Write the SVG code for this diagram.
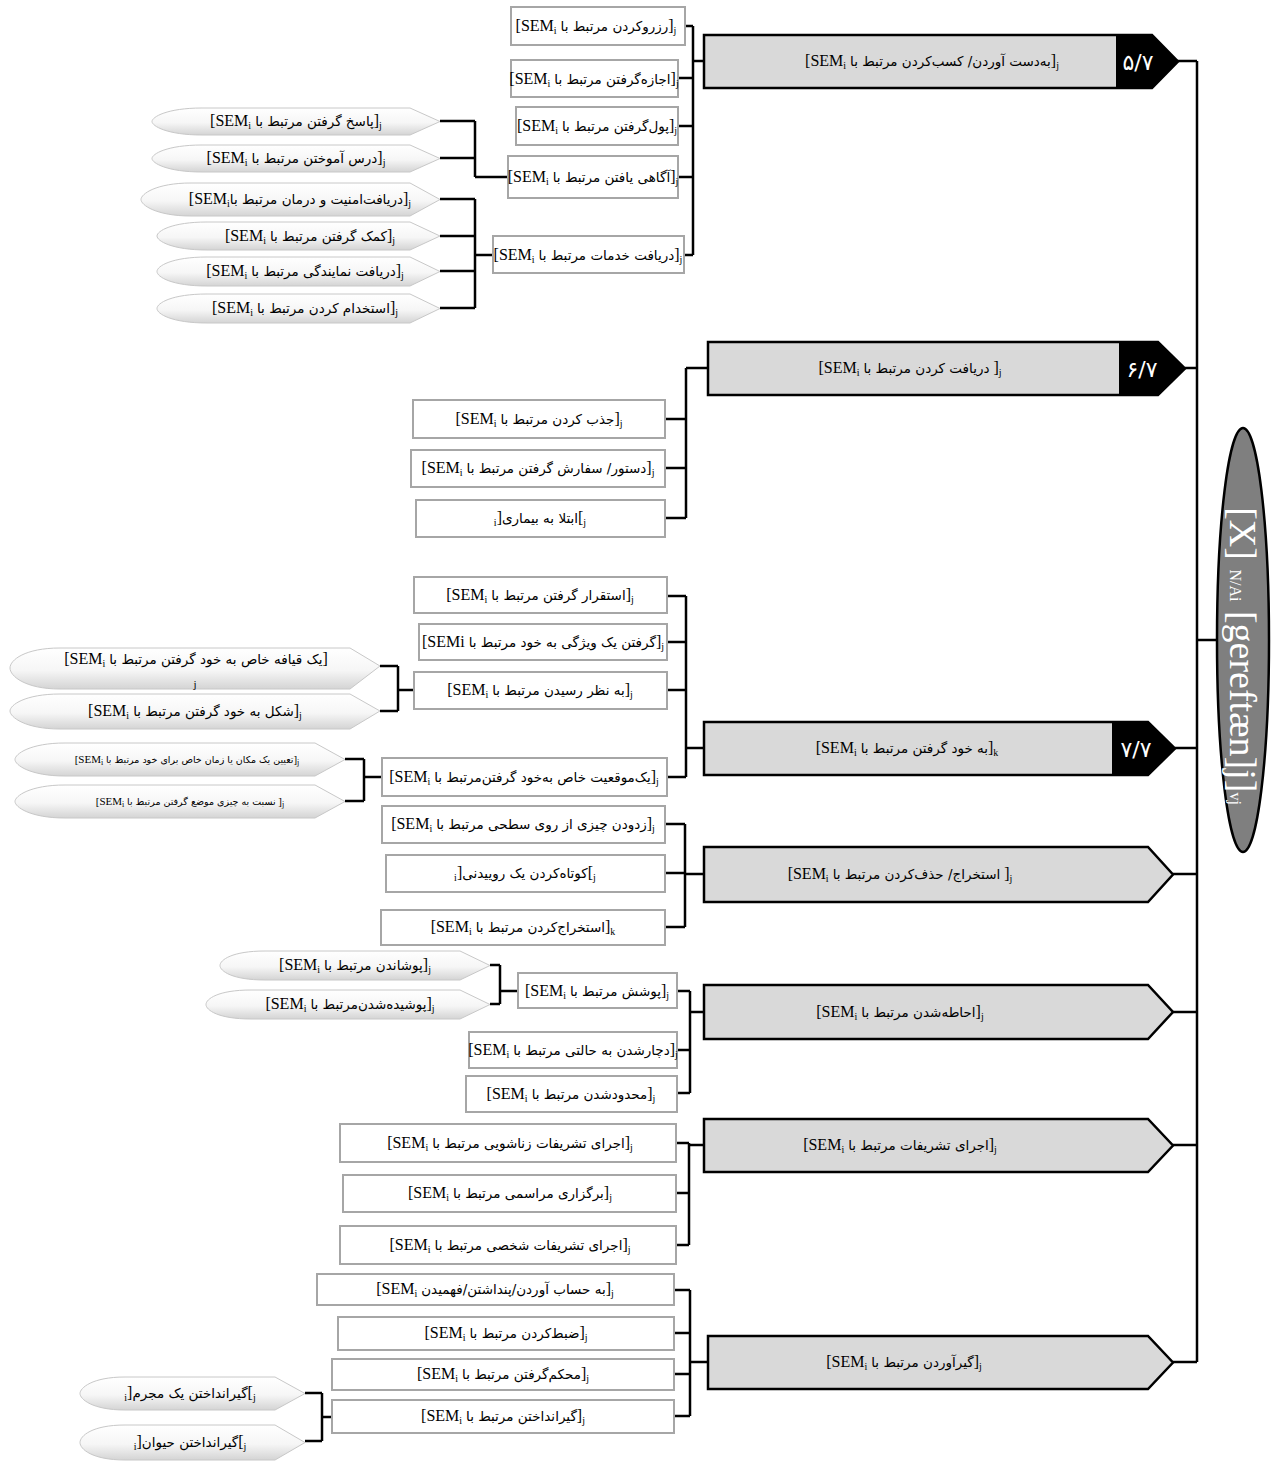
<svg xmlns="http://www.w3.org/2000/svg" width="1278" height="1465" viewBox="0 0 1278 1465">
<defs>
<linearGradient id="lg" x1="0" y1="0" x2="0" y2="1">
<stop offset="0" stop-color="#ffffff"/>
<stop offset="0.55" stop-color="#f6f6f6"/>
<stop offset="1" stop-color="#d4d4d4"/>
</linearGradient>
<style>
.big{fill:#d9d9d9;stroke:#000;stroke-width:2.5}
.blk{fill:#000}
.box{fill:#fff;stroke:#a6a6a6;stroke-width:2}
.leaf{fill:url(#lg);stroke:#c8c8c8;stroke-width:1}
.con{fill:none;stroke:#000;stroke-width:2.5}
.t{font-family:"Liberation Serif","DejaVu Sans",serif;font-size:16px;fill:#000;text-anchor:middle}
.p{font-family:"DejaVu Sans","Liberation Serif",sans-serif;font-size:13.5px}
.sm{font-size:11px}
.sm .p{font-size:9.5px}
.s{font-size:10px}
.sm .s{font-size:8px}
.num{font-family:"DejaVu Sans",sans-serif;font-size:22px;fill:#fff;text-anchor:middle}
.el{font-family:"Liberation Serif",serif;fill:#fff;text-anchor:middle}
</style>
</defs>
<rect width="1278" height="1465" fill="#fff"/>

<g id="connectors">
<path class="con" d="M1177,61 H1197 M1185,368 H1197 M1175,748 H1197 M1173,874 H1197 M1173,1012 H1197 M1173,1145 H1197 M1173,1362 H1197 M1197,61 V1362 M1197,640 H1217"/>
<path class="con" d="M685,26 H693 M678,78 H693 M678,126 H693 M678,177 H693 M684,255 H693 M693,26 V255 M693,61 H704"/>
<path class="con" d="M440,121 H475 M440,158 H475 M475,121 V177 M475,177 H508"/>
<path class="con" d="M440,199 H475 M440,236 H475 M440,271 H475 M440,308 H475 M475,199 V308 M475,255 H493"/>
<path class="con" d="M665,419 H686 M665,468 H686 M665,518 H686 M686,368 V518 M686,368 H708"/>
<path class="con" d="M667,596 H686 M667,642 H686 M667,690 H686 M667,777 H686 M686,596 V777 M686,748 H704"/>
<path class="con" d="M380,666 H398 M380,711 H398 M398,666 V711 M398,690 H414"/>
<path class="con" d="M345,759 H364 M345,801 H364 M364,759 V801 M364,777 H382"/>
<path class="con" d="M665,824 H685 M665,873 H685 M665,927 H685 M685,824 V927 M685,874 H704"/>
<path class="con" d="M677,991 H690 M677,1050 H690 M677,1093 H690 M690,991 V1093 M690,1012 H704"/>
<path class="con" d="M490,965 H500 M490,1004 H500 M500,965 V1004 M500,991 H518"/>
<path class="con" d="M676,1143 H689 M676,1193 H689 M676,1245 H689 M689,1143 V1245 M689,1145 H704"/>
<path class="con" d="M674,1290 H690 M674,1333 H690 M674,1374 H690 M674,1416 H690 M690,1290 V1416 M690,1362 H708"/>
<path class="con" d="M305,1393 H322 M305,1441 H322 M322,1393 V1441 M322,1417 H332"/>
</g>

<g id="root">
<ellipse cx="1243" cy="640" rx="26" ry="212" fill="#7f7f7f" stroke="#000" stroke-width="2.5"/>
<text class="el" transform="rotate(90 1243 640)" x="1259" y="653" font-size="38">[X] <tspan font-size="16">N/Ai</tspan> [gereftæn]j]<tspan font-size="16">vj</tspan></text>
</g>

<g id="n57">
<path class="big" d="M704,35 H1152 L1178,61.5 L1152,88 H704 Z"/>
<path class="blk" d="M1116,35 H1152 L1178,61.5 L1152,88 H1116 Z"/>
<text class="num" x="1138" y="70">۵/۷</text>
<text class="t" x="932" y="66">[SEM<tspan class="s" baseline-shift="-3">i</tspan> <tspan class="p">به‌دست آوردن/ کسب‌کردن مرتبط با</tspan>]<tspan class="s" baseline-shift="-3">j</tspan></text>
</g>
<g id="n67">
<path class="big" d="M708,342 H1158 L1185,368.5 L1158,395 H708 Z"/>
<path class="blk" d="M1119,342 H1158 L1185,368.5 L1158,395 H1119 Z"/>
<text class="num" x="1142" y="377">۶/۷</text>
<text class="t" x="910" y="373">[SEM<tspan class="s" baseline-shift="-3">i</tspan>  <tspan class="p">دریافت کردن مرتبط با</tspan> ]<tspan class="s" baseline-shift="-3">j</tspan></text>
</g>
<g id="n77">
<path class="big" d="M704,722 H1148 L1175,748.5 L1148,775 H704 Z"/>
<path class="blk" d="M1112,722 H1148 L1175,748.5 L1148,775 H1112 Z"/>
<text class="num" x="1136" y="757">۷/۷</text>
<text class="t" x="907" y="753">[SEM<tspan class="s" baseline-shift="-3">i</tspan>  <tspan class="p">به خود گرفتن مرتبط  با</tspan>]<tspan class="s" baseline-shift="-3">k</tspan></text>
</g>
<g id="n_estekhraj">
<path class="big" d="M704,847 H1148 L1173,874.5 L1148,902 H704 Z"/>
<text class="t" x="900" y="879">[SEM<tspan class="s" baseline-shift="-3">i</tspan>  <tspan class="p">استخراج/ حذف‌کردن مرتبط  با</tspan> ]<tspan class="s" baseline-shift="-3">j</tspan></text>
</g>
<g id="n_ehate">
<path class="big" d="M704,985 H1148 L1173,1012 L1148,1039 H704 Z"/>
<text class="t" x="900" y="1017">[SEM<tspan class="s" baseline-shift="-3">i</tspan>  <tspan class="p">احاطه‌شدن مرتبط  با</tspan>]<tspan class="s" baseline-shift="-3">j</tspan></text>
</g>
<g id="n_tashrifat">
<path class="big" d="M704,1119 H1148 L1173,1145.5 L1148,1172 H704 Z"/>
<text class="t" x="900" y="1150">[SEM<tspan class="s" baseline-shift="-3">i</tspan>  <tspan class="p">اجرای تشریفات مرتبط  با</tspan>]<tspan class="s" baseline-shift="-3">j</tspan></text>
</g>
<g id="n_girAvardan">
<path class="big" d="M708,1336 H1148 L1173,1362.5 L1148,1389 H708 Z"/>
<text class="t" x="904" y="1367">[SEM<tspan class="s" baseline-shift="-3">i</tspan>  <tspan class="p">گیرآوردن مرتبط  با</tspan>]<tspan class="s" baseline-shift="-3">j</tspan></text>
</g>

<g id="b1"><rect class="box" x="511" y="7" width="174" height="38"/><text class="t" x="596" y="31">[SEM<tspan class="s" baseline-shift="-3">i</tspan> <tspan class="p">رزروکردن مرتبط با</tspan>]<tspan class="s" baseline-shift="-3">j</tspan></text></g>
<g id="b2"><rect class="box" x="511" y="60" width="167" height="37"/><text class="t" x="594" y="84">[SEM<tspan class="s" baseline-shift="-3">i</tspan> <tspan class="p">اجازه‌گرفتن مرتبط با</tspan>]<tspan class="s" baseline-shift="-3">j</tspan></text></g>
<g id="b3"><rect class="box" x="516" y="107" width="162" height="38"/><text class="t" x="597" y="131">[SEM<tspan class="s" baseline-shift="-3">i</tspan> <tspan class="p">پول‌گرفتن مرتبط با</tspan>]<tspan class="s" baseline-shift="-3">j</tspan></text></g>
<g id="b4"><rect class="box" x="508" y="156" width="170" height="42"/><text class="t" x="593" y="182">[SEM<tspan class="s" baseline-shift="-3">i</tspan> <tspan class="p">آگاهی یافتن مرتبط با</tspan>]<tspan class="s" baseline-shift="-3">j</tspan></text></g>
<g id="b5"><rect class="box" x="493" y="236" width="191" height="37"/><text class="t" x="588" y="260">[SEM<tspan class="s" baseline-shift="-3">i</tspan> <tspan class="p">دریافت خدمات مرتبط با</tspan>]<tspan class="s" baseline-shift="-3">j</tspan></text></g>

<g id="l1"><path class="leaf" d="M440,121.5 L410,108 L202,108 C167,108 152,117 152,121.5 C152,126 167,135 202,135 L410,135 Z"/><text class="t" x="296" y="126">[SEM<tspan class="s" baseline-shift="-3">i</tspan> <tspan class="p">پاسخ گرفتن مرتبط با</tspan>]<tspan class="s" baseline-shift="-3">j</tspan></text></g>
<g id="l2"><path class="leaf" d="M440,158.5 L410,145 L202,145 C167,145 152,154 152,158.5 C152,163 167,172 202,172 L410,172 Z"/><text class="t" x="296" y="163">[SEM<tspan class="s" baseline-shift="-3">i</tspan> <tspan class="p">درس آموختن مرتبط با</tspan>]<tspan class="s" baseline-shift="-3">j</tspan></text></g>
<g id="l3"><path class="leaf" d="M440,199.5 L410,183 L191,183 C156,183 141,194 141,199.5 C141,205 156,216 191,216 L410,216 Z"/><text class="t" x="300" y="204">[SEM<tspan class="s" baseline-shift="-3">i</tspan><tspan class="p">دریافت‌امنیت و درمان مرتبط با</tspan>]<tspan class="s" baseline-shift="-3">j</tspan></text></g>
<g id="l4"><path class="leaf" d="M440,236 L410,222 L207,222 C172,222 157,231 157,236 C157,241 172,250 207,250 L410,250 Z"/><text class="t" x="310" y="241">[SEM<tspan class="s" baseline-shift="-3">i</tspan> <tspan class="p">کمک گرفتن مرتبط با</tspan>]<tspan class="s" baseline-shift="-3">j</tspan></text></g>
<g id="l5"><path class="leaf" d="M440,271.5 L410,257 L207,257 C172,257 157,266 157,271.5 C157,277 172,286 207,286 L410,286 Z"/><text class="t" x="305" y="276">[SEM<tspan class="s" baseline-shift="-3">i</tspan> <tspan class="p">دریافت نمایندگی مرتبط با</tspan>]<tspan class="s" baseline-shift="-3">j</tspan></text></g>
<g id="l6"><path class="leaf" d="M440,308.5 L410,294 L207,294 C172,294 157,303 157,308.5 C157,314 172,323 207,323 L410,323 Z"/><text class="t" x="305" y="313">[SEM<tspan class="s" baseline-shift="-3">i</tspan> <tspan class="p">استخدام کردن مرتبط با</tspan>]<tspan class="s" baseline-shift="-3">j</tspan></text></g>

<g id="b6"><rect class="box" x="413" y="400" width="252" height="38"/><text class="t" x="539" y="424">[SEM<tspan class="s" baseline-shift="-3">i</tspan> <tspan class="p">جذب کردن مرتبط با</tspan>]<tspan class="s" baseline-shift="-3">j</tspan></text></g>
<g id="b7"><rect class="box" x="411" y="450" width="254" height="37"/><text class="t" x="538" y="473">[SEM<tspan class="s" baseline-shift="-3">i</tspan> <tspan class="p">دستور/ سفارش گرفتن مرتبط با</tspan>]<tspan class="s" baseline-shift="-3">j</tspan></text></g>
<g id="b8"><rect class="box" x="416" y="500" width="249" height="37"/><text class="t" x="540" y="523"><tspan class="s" baseline-shift="-3">i</tspan>]<tspan class="p">ابتلا به بیماری</tspan>[<tspan class="s" baseline-shift="-3">j</tspan></text></g>

<g id="b9"><rect class="box" x="414" y="577" width="253" height="36"/><text class="t" x="540" y="600">[SEM<tspan class="s" baseline-shift="-3">i</tspan> <tspan class="p">استقرار گرفتن مرتبط با</tspan>]<tspan class="s" baseline-shift="-3">j</tspan></text></g>
<g id="b10"><rect class="box" x="419" y="624" width="248" height="36"/><text class="t" x="543" y="647">[SEMi <tspan class="p">گرفتن یک ویژگی به خود مرتبط با</tspan>]<tspan class="s" baseline-shift="-3">j</tspan></text></g>
<g id="b11"><rect class="box" x="414" y="672" width="253" height="37"/><text class="t" x="540" y="695">[SEM<tspan class="s" baseline-shift="-3">i</tspan> <tspan class="p">به نظر رسیدن مرتبط با</tspan>]<tspan class="s" baseline-shift="-3">j</tspan></text></g>
<g id="b12"><rect class="box" x="382" y="758" width="285" height="38"/><text class="t" x="524" y="782">[SEM<tspan class="s" baseline-shift="-3">i</tspan> <tspan class="p">یک‌موقعیت خاص به‌خود گرفتن‌مرتبط با</tspan>]<tspan class="s" baseline-shift="-3">j</tspan></text></g>

<g id="l7"><path class="leaf" d="M380,666 L350,648 L60,648 C25,648 10,660 10,668 C10,676 25,689 60,689 L350,689 Z"/><text class="t" x="196" y="664">[SEM<tspan class="s" baseline-shift="-3">i</tspan> <tspan class="p">یک قیافه خاص به خود گرفتن مرتبط با</tspan>]</text><text class="t sm" x="195" y="688">j</text></g>
<g id="l8"><path class="leaf" d="M380,711 L350,694 L60,694 C25,694 10,705 10,711 C10,717 25,729 60,729 L350,729 Z"/><text class="t" x="195" y="716">[SEM<tspan class="s" baseline-shift="-3">i</tspan> <tspan class="p">شکل به خود گرفتن مرتبط با</tspan>]<tspan class="s" baseline-shift="-3">j</tspan></text></g>
<g id="l9"><path class="leaf" d="M345,759.5 L315,743 L65,743 C30,743 15,754 15,759.5 C15,765 30,776 65,776 L315,776 Z"/><text class="t sm" x="187" y="763">[SEM<tspan class="s" baseline-shift="-2">i</tspan> <tspan class="p">تعیین یک مکان یا زمان خاص برای خود مرتبط با</tspan>]<tspan class="s" baseline-shift="-2">j</tspan></text></g>
<g id="l10"><path class="leaf" d="M345,801.5 L315,785 L65,785 C30,785 15,796 15,801.5 C15,807 30,818 65,818 L315,818 Z"/><text class="t sm" x="190" y="805">[SEM<tspan class="s" baseline-shift="-2">i</tspan>  <tspan class="p">نسبت به چیزی موضع گرفتن مرتبط با</tspan> ]<tspan class="s" baseline-shift="-2">j</tspan></text></g>

<g id="b13"><rect class="box" x="382" y="806" width="283" height="37"/><text class="t" x="523" y="829">[SEM<tspan class="s" baseline-shift="-3">i</tspan> <tspan class="p">زدودن چیزی از روی سطحی مرتبط با</tspan>]<tspan class="s" baseline-shift="-3">j</tspan></text></g>
<g id="b14"><rect class="box" x="386" y="855" width="279" height="37"/><text class="t" x="525" y="878"><tspan class="s" baseline-shift="-3">i</tspan>]<tspan class="p">کوتاه‌کردن یک روییدنی</tspan>[<tspan class="s" baseline-shift="-3">j</tspan></text></g>
<g id="b15"><rect class="box" x="381" y="910" width="284" height="35"/><text class="t" x="523" y="932">[SEM<tspan class="s" baseline-shift="-3">i</tspan> <tspan class="p">استخراج‌کردن مرتبط با</tspan>]<tspan class="s" baseline-shift="-3">k</tspan></text></g>

<g id="b16"><rect class="box" x="518" y="973" width="159" height="35"/><text class="t" x="597" y="996">[SEM<tspan class="s" baseline-shift="-3">i</tspan> <tspan class="p">پوشش مرتبط با</tspan>]<tspan class="s" baseline-shift="-3">j</tspan></text></g>
<g id="l11"><path class="leaf" d="M490,965.5 L460,951 L265,951 C232,951 220,960 220,965.5 C220,971 232,980 265,980 L460,980 Z"/><text class="t" x="355" y="970">[SEM<tspan class="s" baseline-shift="-3">i</tspan> <tspan class="p">پوشاندن مرتبط با</tspan>]<tspan class="s" baseline-shift="-3">j</tspan></text></g>
<g id="l12"><path class="leaf" d="M490,1004.5 L460,990 L251,990 C218,990 206,999 206,1004.5 C206,1010 218,1019 251,1019 L460,1019 Z"/><text class="t" x="350" y="1009">[SEM<tspan class="s" baseline-shift="-3">i</tspan> <tspan class="p">پوشیده‌شدن‌مرتبط با</tspan>]<tspan class="s" baseline-shift="-3">j</tspan></text></g>
<g id="b17"><rect class="box" x="469" y="1032" width="208" height="36"/><text class="t" x="573" y="1055">[SEM<tspan class="s" baseline-shift="-3">i</tspan> <tspan class="p">دچارشدن به حالتی مرتبط با</tspan>]<tspan class="s" baseline-shift="-3">j</tspan></text></g>
<g id="b18"><rect class="box" x="466" y="1076" width="211" height="36"/><text class="t" x="571" y="1099">[SEM<tspan class="s" baseline-shift="-3">i</tspan> <tspan class="p">محدودشدن مرتبط با</tspan>]<tspan class="s" baseline-shift="-3">j</tspan></text></g>

<g id="b19"><rect class="box" x="340" y="1124" width="336" height="38"/><text class="t" x="510" y="1148">[SEM<tspan class="s" baseline-shift="-3">i</tspan> <tspan class="p">اجرای تشریفات زناشویی مرتبط با</tspan>]<tspan class="s" baseline-shift="-3">j</tspan></text></g>
<g id="b20"><rect class="box" x="343" y="1175" width="333" height="37"/><text class="t" x="510" y="1198">[SEM<tspan class="s" baseline-shift="-3">i</tspan> <tspan class="p">برگزاری مراسمی مرتبط با</tspan>]<tspan class="s" baseline-shift="-3">j</tspan></text></g>
<g id="b21"><rect class="box" x="340" y="1226" width="336" height="38"/><text class="t" x="510" y="1250">[SEM<tspan class="s" baseline-shift="-3">i</tspan> <tspan class="p">اجرای تشریفات شخصی مرتبط با</tspan>]<tspan class="s" baseline-shift="-3">j</tspan></text></g>

<g id="b22"><rect class="box" x="317" y="1274" width="357" height="31"/><text class="t" x="495" y="1294">[SEM<tspan class="s" baseline-shift="-3">i</tspan> <tspan class="p">به حساب آوردن/پنداشتن/فهمیدن</tspan>]<tspan class="s" baseline-shift="-3">j</tspan></text></g>
<g id="b23"><rect class="box" x="338" y="1317" width="336" height="33"/><text class="t" x="506" y="1338">[SEM<tspan class="s" baseline-shift="-3">i</tspan> <tspan class="p">ضبط‌کردن مرتبط با</tspan>]<tspan class="s" baseline-shift="-3">j</tspan></text></g>
<g id="b24"><rect class="box" x="332" y="1359" width="342" height="31"/><text class="t" x="503" y="1379">[SEM<tspan class="s" baseline-shift="-3">i</tspan> <tspan class="p">محکم‌گرفتن مرتبط با</tspan>]<tspan class="s" baseline-shift="-3">j</tspan></text></g>
<g id="b25"><rect class="box" x="332" y="1400" width="342" height="33"/><text class="t" x="503" y="1421">[SEM<tspan class="s" baseline-shift="-3">i</tspan> <tspan class="p">گیرانداختن مرتبط با</tspan>]<tspan class="s" baseline-shift="-3">j</tspan></text></g>
<g id="l13"><path class="leaf" d="M305,1393.5 L275,1377 L125,1377 C92,1377 80,1388 80,1393.5 C80,1399 92,1410 125,1410 L275,1410 Z"/><text class="t" x="190" y="1398"><tspan class="s" baseline-shift="-3">i</tspan>]<tspan class="p">گیرانداختن یک مجرم</tspan>[<tspan class="s" baseline-shift="-3">j</tspan></text></g>
<g id="l14"><path class="leaf" d="M305,1442.5 L275,1425 L125,1425 C92,1425 80,1436 80,1442.5 C80,1449 92,1460 125,1460 L275,1460 Z"/><text class="t" x="190" y="1447"><tspan class="s" baseline-shift="-3">i</tspan>]<tspan class="p">گیرانداختن حیوان</tspan>[<tspan class="s" baseline-shift="-3">j</tspan></text></g>
</svg>
